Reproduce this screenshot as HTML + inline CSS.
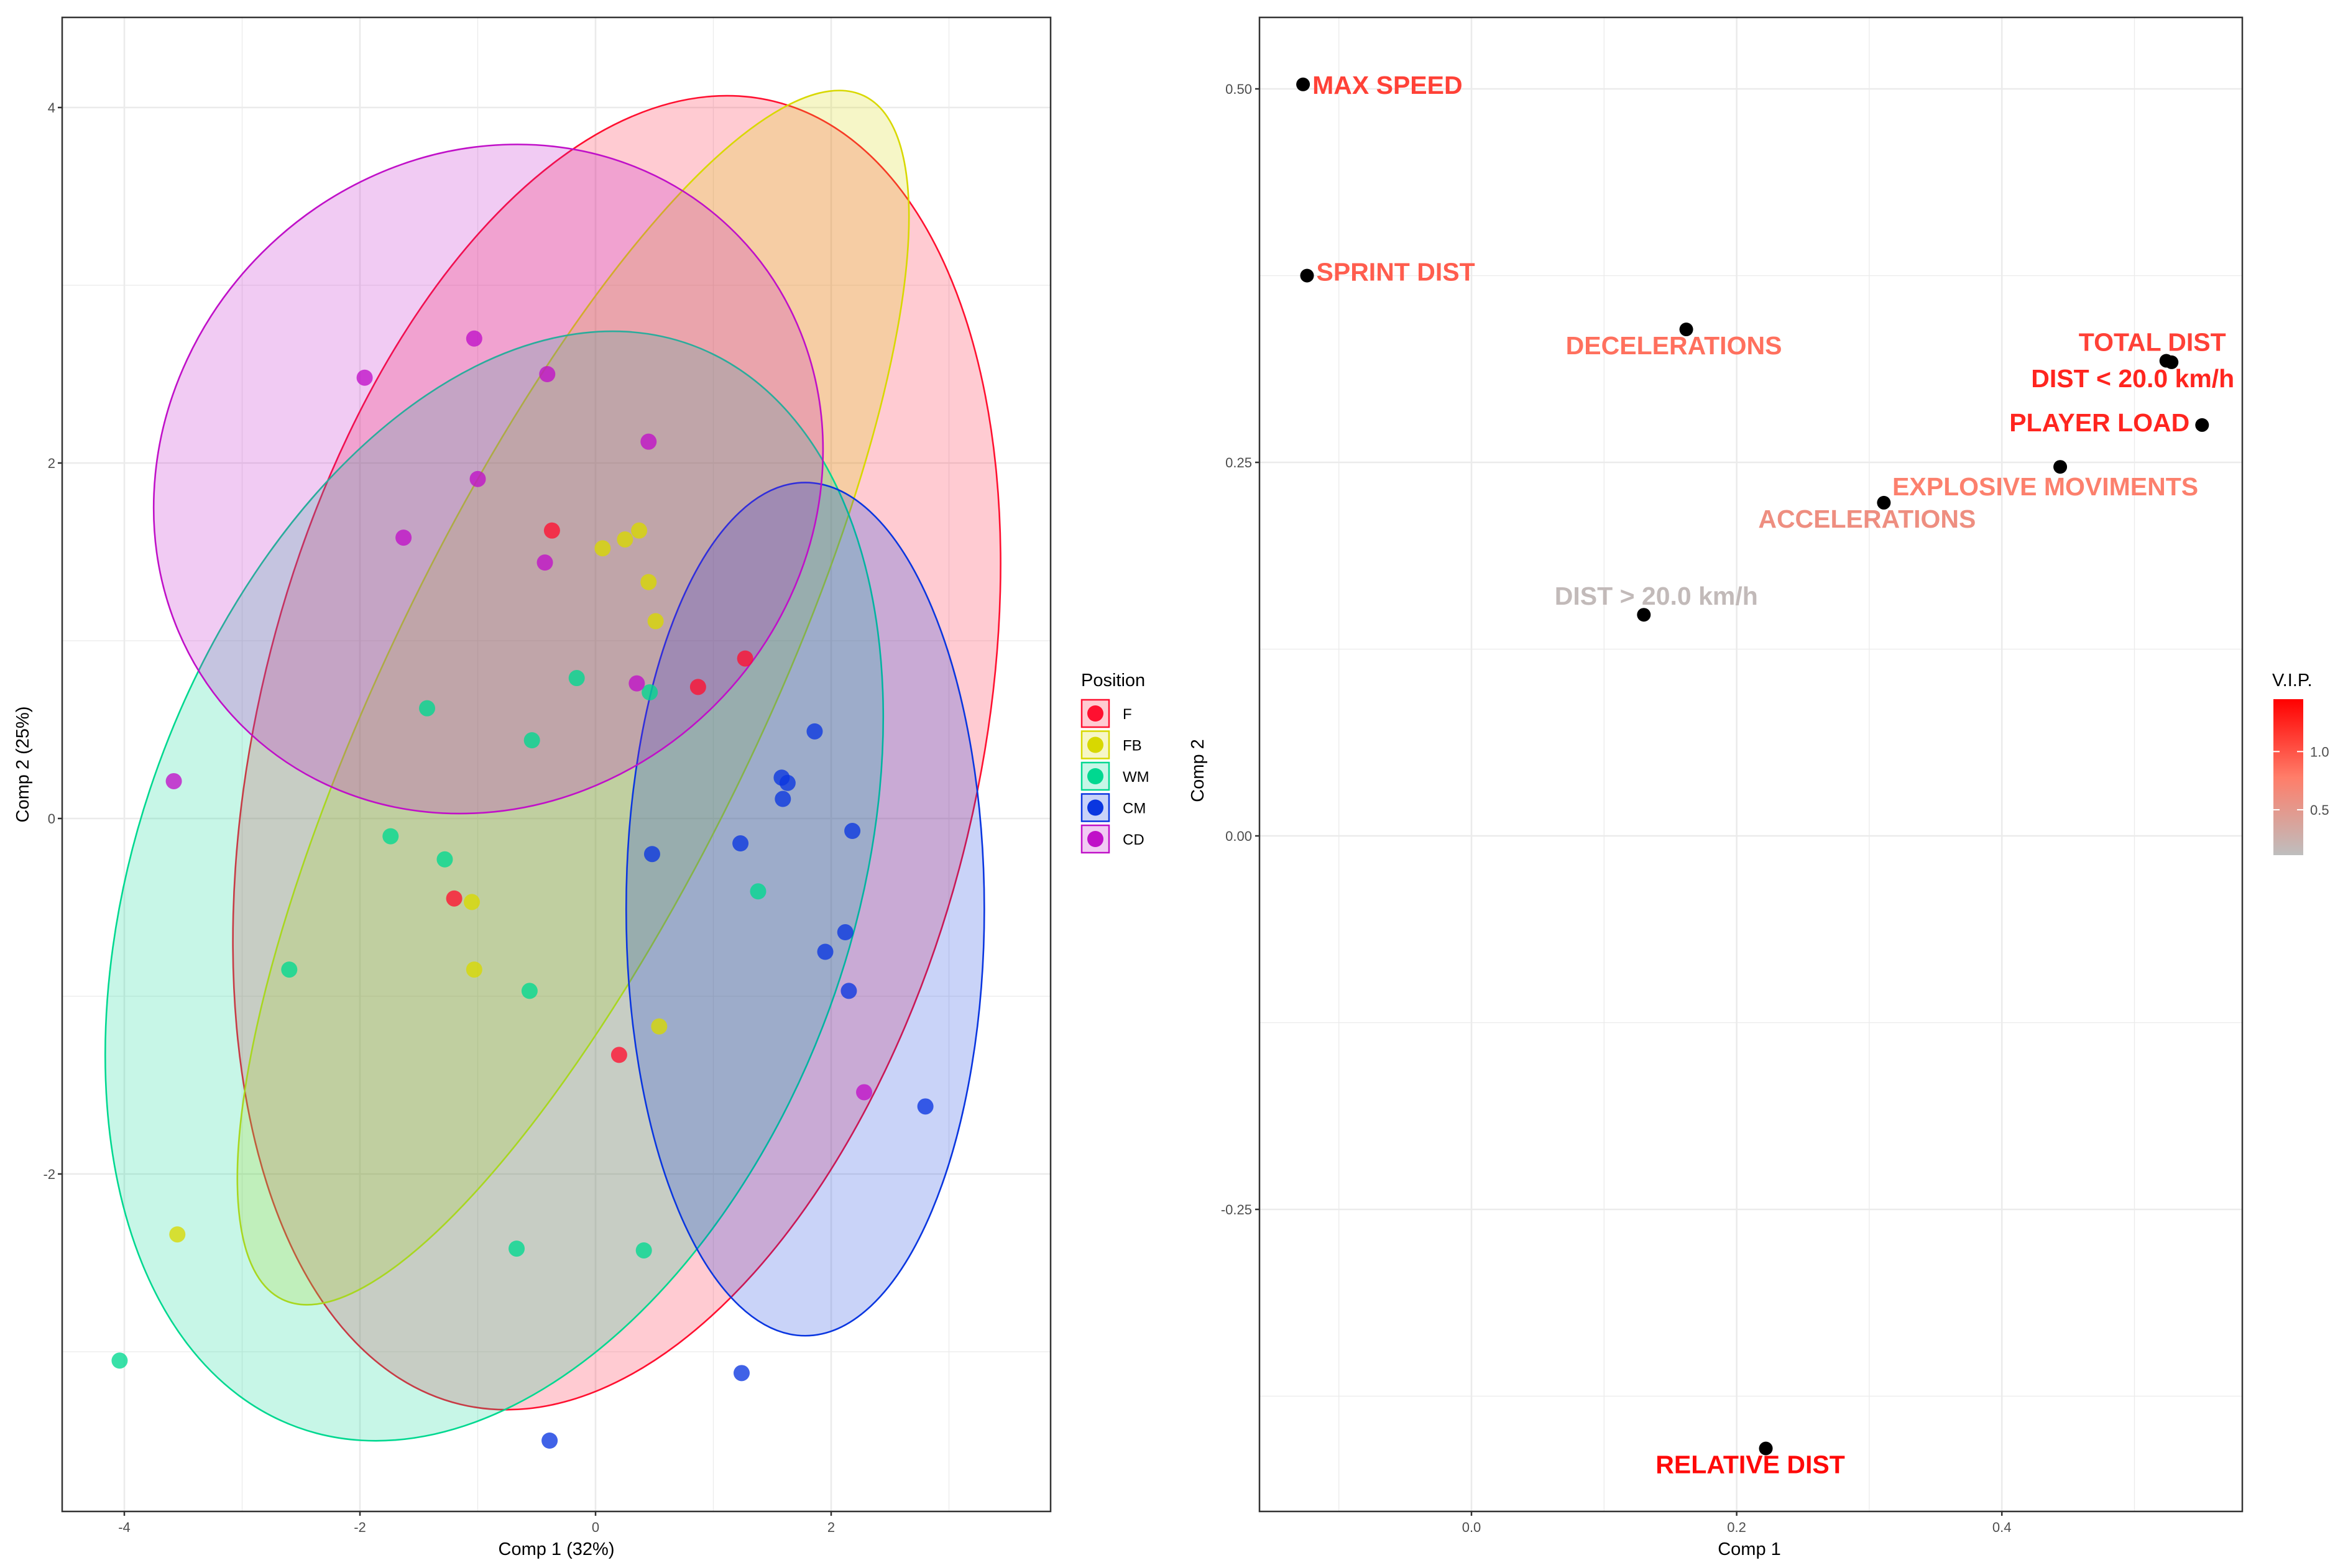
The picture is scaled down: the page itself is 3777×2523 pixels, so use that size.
<!DOCTYPE html>
<html><head><meta charset="utf-8"><style>
html,body{margin:0;padding:0;background:#fff;}
svg{display:block;font-family:"Liberation Sans",sans-serif;}
</style></head>
<body>
<svg id="fig" xmlns="http://www.w3.org/2000/svg" width="3777" height="2523" viewBox="0 0 3777 2523">
<rect width="3777" height="2523" fill="#fff"/>
<g id="left"></g>
<g id="right"></g>
</svg>
<script>
// ---------- Left chart data ----------
const groups = ["F","FB","WM","CM","CD"];
const groupColors = ["#FF1030","#D8D800","#00D890","#0A36E0","#C010C8"];
const fX = [-0.37,-1.20,0.20,0.87,1.27];
const fY = [1.62,-0.45,-1.33,0.74,0.90];
const fbX = [0.06,0.25,0.37,0.45,0.51,-1.05,-1.03,0.54,-3.55];
const fbY = [1.52,1.57,1.62,1.33,1.11,-0.47,-0.85,-1.17,-2.34];
const wmX = [-0.16,-1.43,-0.54,0.46,-1.74,-1.28,-2.60,-0.56,1.38,-0.67,0.41,-4.04];
const wmY = [0.79,0.62,0.44,0.71,-0.10,-0.23,-0.85,-0.97,-0.41,-2.42,-2.43,-3.05];
const cmX = [1.86,1.58,1.63,1.59,2.18,1.23,0.48,2.12,1.95,2.15,2.80,1.24,-0.39];
const cmY = [0.49,0.23,0.20,0.11,-0.07,-0.14,-0.20,-0.64,-0.75,-0.97,-1.62,-3.12,-3.50];
const cdX = [-1.03,-1.96,-0.41,0.45,-1.00,-1.63,-0.43,0.35,-3.58,2.28];
const cdY = [2.70,2.48,2.50,2.12,1.91,1.58,1.44,0.76,0.21,-1.54];
// ellipses: centre (data), semi-axes (data units), rotation deg
const ellCX = [0.18,-0.19,-0.86,1.78,-0.91];
const ellCY = [0.37,0.68,-0.38,-0.51,1.91];
const ellA  = [3.06,1.58,3.03,1.52,2.96];
const ellB  = [3.77,3.76,3.24,2.40,1.80];
const ellRot= [13.5,25.8,20,0,-45];
const leftXTicks = [-4,-2,0,2];
const leftYTicks = [-2,0,2,4];

// ---------- Right chart data ----------
const varNames = ["MAX SPEED","SPRINT DIST","DECELERATIONS","TOTAL DIST","DIST < 20.0 km/h","PLAYER LOAD","EXPLOSIVE MOVIMENTS","ACCELERATIONS","DIST > 20.0 km/h","RELATIVE DIST"];
const comp1 = [-0.127,-0.124,0.162,0.524,0.528,0.551,0.444,0.311,0.130,0.222];
const comp2 = [0.503,0.375,0.339,0.318,0.317,0.275,0.247,0.223,0.148,-0.410];
const vip = [1.10,0.95,0.85,1.10,1.25,1.25,0.75,0.60,0.15,1.40];
const rightXTicks = [0.0,0.2,0.4];
const rightYTicks = [-0.25,0.00,0.25,0.50];
const vipTicks = [0.5,1.0];

const NS="http://www.w3.org/2000/svg";
function mk(parent,tag,attrs,text){const e=document.createElementNS(NS,tag);for(const k in attrs)e.setAttribute(k,attrs[k]);if(text!==undefined)e.textContent=text;parent.appendChild(e);return e;}

// ===== LEFT =====
const L=document.getElementById('left');
const lp={x0:100,x1:1690,y0:28,y1:2432};
const lx=v=>958+v*189.5, ly=v=>1317-v*286;
let bg=mk(L,'rect',{x:lp.x0,y:lp.y0,width:lp.x1-lp.x0,height:lp.y1-lp.y0,fill:'#fff'});


for(let v=-5;v<=4;v++){const p=lx(v);if(p<lp.x0||p>lp.x1)continue;const g=mk(L,'line',{x1:p,x2:p,y1:lp.y0,y2:lp.y1,stroke:'#EBEBEB','stroke-width':v%2===0?2.6:1.3});
}
for(let v=-4;v<=5;v++){const p=ly(v);if(p<lp.y0||p>lp.y1)continue;const g=mk(L,'line',{x1:lp.x0,x2:lp.x1,y1:p,y2:p,stroke:'#EBEBEB','stroke-width':v%2===0?2.6:1.3});
}
for(let i=0;i<groups.length;i++){
  const cx=lx(ellCX[i]),cy=ly(ellCY[i]);
  const e=mk(L,'ellipse',{cx:cx,cy:cy,rx:ellA[i]*189.5,ry:ellB[i]*286,transform:`rotate(${ellRot[i]} ${cx} ${cy})`,fill:groupColors[i],'fill-opacity':0.22,stroke:groupColors[i],'stroke-width':2.6});
  
  
}
const gx=[fX,fbX,wmX,cmX,cdX], gy=[fY,fbY,wmY,cmY,cdY];
for(let i=0;i<groups.length;i++){for(let j=0;j<gx[i].length;j++){
  const c=mk(L,'circle',{cx:lx(gx[i][j]),cy:ly(gy[i][j]),r:13,fill:groupColors[i],'fill-opacity':0.78});
  
  
}}
let bd=mk(L,'rect',{x:lp.x0,y:lp.y0,width:lp.x1-lp.x0,height:lp.y1-lp.y0,fill:'none',stroke:'#333','stroke-width':2.5});

for(const t of leftXTicks){const p=lx(t);mk(L,'line',{x1:p,x2:p,y1:lp.y1,y2:lp.y1+7,stroke:'#333','stroke-width':2.5});
  const tx=mk(L,'text',{x:p,y:2465,'font-size':22,fill:'#4D4D4D','text-anchor':'middle'},String(t));
  }
for(const t of leftYTicks){const p=ly(t);mk(L,'line',{x1:lp.x0-7,x2:lp.x0,y1:p,y2:p,stroke:'#333','stroke-width':2.5});
  const tx=mk(L,'text',{x:89,y:p+8,'font-size':22,fill:'#4D4D4D','text-anchor':'end'},String(t));
  }
let xt=mk(L,'text',{x:895,y:2502,'font-size':29,fill:'#000','text-anchor':'middle'},'Comp 1 (32%)');

let yt=mk(L,'text',{x:0,y:0,'font-size':29,fill:'#000','text-anchor':'middle',transform:'translate(46 1230) rotate(-90)'},'Comp 2 (25%)');

// legend
const lg=mk(L,'g',{});

let lt=mk(lg,'text',{x:1739,y:1104,'font-size':29,fill:'#000'},'Position');

for(let i=0;i<groups.length;i++){
  const y=1126+i*50.5;
  const en=mk(lg,'g',{});
  
  
  mk(en,'rect',{x:1740,y:y,width:44,height:44,fill:groupColors[i],'fill-opacity':0.22,stroke:groupColors[i],'stroke-width':2.5});
  mk(en,'circle',{cx:1762,cy:y+22,r:13,fill:groupColors[i]});
  mk(en,'text',{x:1806,y:y+31,'font-size':24,fill:'#000'},groups[i]);
}

// ===== RIGHT =====
const R=document.getElementById('right');
const rp={x0:2026,x1:3607,y0:28,y1:2432};
const rx=v=>2367+v*2133, ry=v=>1345-v*2404;
for(let k=-1;k<=5;k++){const v=k*0.1;const p=rx(v);if(p<rp.x0||p>rp.x1)continue;const g=mk(R,'line',{x1:p,x2:p,y1:rp.y0,y2:rp.y1,stroke:'#EBEBEB','stroke-width':k%2===0?2.6:1.3});
}
for(let k=-3;k<=5;k++){const v=k*0.125;const p=ry(v);if(p<rp.y0||p>rp.y1)continue;const g=mk(R,'line',{x1:rp.x0,x2:rp.x1,y1:p,y2:p,stroke:'#EBEBEB','stroke-width':k%2===0?2.6:1.3});
}
function vipColor(v){const t=Math.max(0,Math.min(1,(v-0.11)/(1.45-0.11)));
  const c0=[190,190,190],c1=[255,125,105],c2=[255,0,0];let a,b,u;
  if(t<0.5){a=c0;b=c1;u=t/0.5;}else{a=c1;b=c2;u=(t-0.5)/0.5;}
  const c=a.map((x,k)=>Math.round(x+(b[k]-x)*u));return `rgb(${c[0]},${c[1]},${c[2]})`;}
// label offsets (pixels from point) and anchors
const lblDX=[15,15,-20,96,101,-20,-270,-27,20,-25];
const lblDY=[15,8,40,-16,40,10,46,40,-16,40];
const lblAnchor=['start','start','middle','end','end','end','start','middle','middle','middle'];
for(let i=0;i<varNames.length;i++){
  const px=rx(comp1[i]),py=ry(comp2[i]);
  const c=mk(R,'circle',{cx:px,cy:py,r:11,fill:'#000'});
  
  
  const t=mk(R,'text',{x:px+lblDX[i],y:py+lblDY[i],'font-size':41,'font-weight':'bold',fill:vipColor(vip[i]),'text-anchor':lblAnchor[i]},varNames[i]);
  
  
}
let rb=mk(R,'rect',{x:rp.x0,y:rp.y0,width:rp.x1-rp.x0,height:rp.y1-rp.y0,fill:'none',stroke:'#333','stroke-width':2.5});

for(const t of rightXTicks){const p=rx(t);mk(R,'line',{x1:p,x2:p,y1:rp.y1,y2:rp.y1+7,stroke:'#333','stroke-width':2.5});
  const tx=mk(R,'text',{x:p,y:2465,'font-size':22,fill:'#4D4D4D','text-anchor':'middle'},t.toFixed(1));
  }
for(const t of rightYTicks){const p=ry(t);mk(R,'line',{x1:rp.x0-7,x2:rp.x0,y1:p,y2:p,stroke:'#333','stroke-width':2.5});
  const tx=mk(R,'text',{x:2014,y:p+8,'font-size':22,fill:'#4D4D4D','text-anchor':'end'},t.toFixed(2));
  }
let rxt=mk(R,'text',{x:2814,y:2502,'font-size':29,fill:'#000','text-anchor':'middle'},'Comp 1');

let ryt=mk(R,'text',{x:0,y:0,'font-size':29,fill:'#000','text-anchor':'middle',transform:'translate(1936 1240) rotate(-90)'},'Comp 2');

// colorbar
const cb=mk(R,'g',{});

const defs=mk(cb,'defs',{});
const gr=mk(defs,'linearGradient',{id:'vipgrad',x1:0,y1:1,x2:0,y2:0});
mk(gr,'stop',{offset:'0','stop-color':'#BEBEBE'});
mk(gr,'stop',{offset:'0.5','stop-color':'#FF7D69'});
mk(gr,'stop',{offset:'1','stop-color':'#FF0000'});
mk(cb,'rect',{x:3657,y:1125,width:48,height:251,fill:'url(#vipgrad)'});
let ct=mk(cb,'text',{x:3655,y:1104,'font-size':29,fill:'#000'},'V.I.P.');

const vy=v=>1376-(v-0.11)/(1.45-0.11)*251;
for(const t of vipTicks){const p=vy(t);
  mk(cb,'line',{x1:3657,x2:3667,y1:p,y2:p,stroke:'#fff','stroke-width':2});
  mk(cb,'line',{x1:3695,x2:3705,y1:p,y2:p,stroke:'#fff','stroke-width':2});
  const tx=mk(cb,'text',{x:3716,y:p+8,'font-size':22,fill:'#4D4D4D'},t.toFixed(1));
  }
</script>
</body></html>
